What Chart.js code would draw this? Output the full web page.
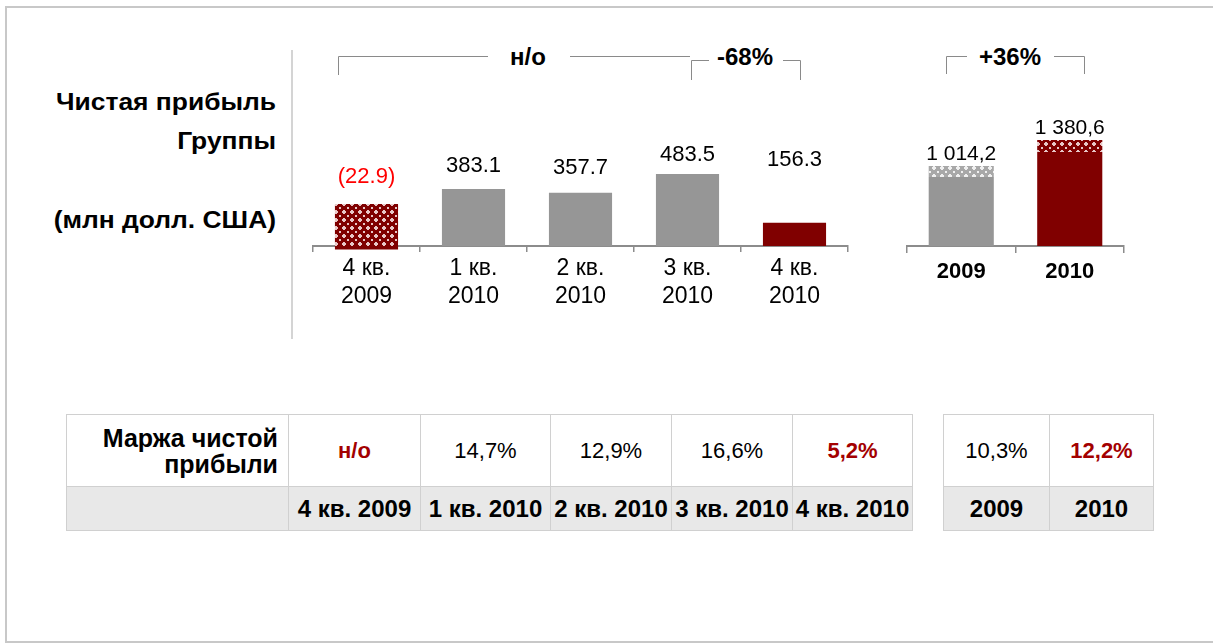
<!DOCTYPE html>
<html>
<head>
<meta charset="utf-8">
<script src="https://cdn.jsdelivr.net/npm/chart.js@4.4.1/dist/chart.umd.min.js"></script>
<style>
body { margin: 0; width: 1213px; height: 643px; position: relative; overflow: hidden; background: #fff;
       font-family: "Liberation Sans", Arial, sans-serif; color: #000; }
.abs { position: absolute; }
.note { position: absolute; font-weight: bold; font-size: 24px; text-align: center; line-height: 26px; background: #fff; }
.title { position: absolute; left: 0; width: 276px; text-align: right; font-weight: bold; font-size: 24px; line-height: 26px;
         transform: scaleX(1.1); transform-origin: right center; }
table { position: absolute; border-collapse: collapse; table-layout: fixed; }
td { border: 1px solid #d0d0d0; text-align: center; padding: 0; font-size: 22px; white-space: nowrap; }
tr.top td { height: 71px; }
tr.bot td { height: 43px; background: #e8e8e8; font-weight: bold; font-size: 24px; }
td.lbl { text-align: right; padding-right: 10px; font-weight: bold; font-size: 25px; line-height: 26px; }
.red { color: #a30000; font-weight: bold; }
</style>
</head>
<body>

<svg class="abs" style="left:0;top:0" width="1213" height="643">
  <path d="M5 7 H1213 M6 7 V642 M5 642 H1213" stroke="#c8c8c8" stroke-width="2" fill="none"/>
  <line x1="292" y1="50" x2="292" y2="339" stroke="#d4d4d4" stroke-width="2"/>
  <g stroke="#8a8a8a" stroke-width="1" fill="none">
    <path d="M338.5 75 V56.5 H488 M570 56.5 H690"/>
    <path d="M691.5 80 V60.5 H709 M783 60.5 H800.5 V80"/>
    <path d="M946.5 74 V56.5 H967 M1054 56.5 H1084.5 V74"/>
  </g>
</svg>

<div class="note" style="left:496px;top:44px;width:64px">н/о</div>
<div class="note" style="left:711px;top:44px;width:68px">-68%</div>
<div class="note" style="left:972px;top:44px;width:76px">+36%</div>

<div class="title" style="top:89px">Чистая прибыль</div>
<div class="title" style="top:128px">Группы</div>
<div class="title" style="top:207px">(млн долл. США)</div>

<canvas id="quarterChart" width="560" height="200" class="abs" style="left:300px;top:120px"></canvas>
<canvas id="yearChart" width="250" height="210" class="abs" style="left:890px;top:100px"></canvas>

<table id="qTable" style="left:66px;top:414px"></table>
<table id="yTable" style="left:943px;top:414px"></table>

<script>
var quarters = [['4 кв.', '2009'], ['1 кв.', '2010'], ['2 кв.', '2010'], ['3 кв.', '2010'], ['4 кв.', '2010']];
var quarterNet = [-22.9, 383.1, 357.7, 483.5, 156.3];
var quarterOneOff = [282, 0, 0, 0, 0];

var years = ['2009', '2010'];
var yearBase = [898, 1224];
var yearOneOff = [143, 156];
var yearTotal = [1014.2, 1380.6];

var quarterNames = ['4 кв. 2009', '1 кв. 2010', '2 кв. 2010', '3 кв. 2010', '4 кв. 2010'];
var quarterMargin = ['н/о', '14,7%', '12,9%', '16,6%', '5,2%'];
var yearMargin = ['10,3%', '12,2%'];

var GREY = '#969696';
var DARK_RED = '#800000';
var FONT = '"Liberation Sans", Arial, sans-serif';

function makePattern(bg, fg) {
    var c = document.createElement('canvas');
    c.width = 8; c.height = 8;
    var g = c.getContext('2d');
    g.fillStyle = bg;
    g.fillRect(0, 0, 8, 8);
    g.fillStyle = fg;
    // small plus in the middle, dots around it
    g.fillRect(3, 2, 2, 4);
    g.fillRect(2, 3, 4, 2);
    g.fillRect(0, 0, 1, 1);
    g.fillRect(7, 7, 1, 1);
    g.fillRect(7, 0, 1, 1);
    g.fillRect(0, 7, 1, 1);
    return g.createPattern(c, 'repeat');
}

var redHatch = makePattern(DARK_RED, '#e8c8c8');
var greyHatch = makePattern('#a8a8a8', '#f0f0f0');

function fmtQuarter(v) {
    return v < 0 ? '(' + (-v).toFixed(1) + ')' : v.toFixed(1);
}

function fmtRu(v) {
    var p = v.toFixed(1).split('.');
    return p[0].replace(/\B(?=(\d{3})+(?!\d))/g, ' ') + ',' + p[1];
}

var barLabels = {
    id: 'barLabels',
    afterDatasetsDraw: function (chart, args, opts) {
        var ctx = chart.ctx;
        ctx.save();
        ctx.font = opts.font;
        ctx.textAlign = 'center';
        ctx.textBaseline = 'middle';
        for (var i = 0; i < chart.data.labels.length; i++) {
            var top = Infinity, x = 0;
            chart.data.datasets.forEach(function (ds, d) {
                var el = chart.getDatasetMeta(d).data[i];
                top = Math.min(top, el.y, el.base);
                x = el.x;
            });
            ctx.fillStyle = opts.colors[i];
            ctx.fillText(opts.texts[i], x, top - opts.lift[i]);
        }
        ctx.restore();
    }
};

var axisGrey = '#8c8c8c';

new Chart(document.getElementById('quarterChart'), {
    type: 'bar',
    data: {
        labels: quarters,
        datasets: [{
            data: quarterOneOff,
            backgroundColor: redHatch,
            barPercentage: 0.59,
            categoryPercentage: 1
        }, {
            data: quarterNet,
            backgroundColor: [DARK_RED, GREY, GREY, GREY, DARK_RED],
            barPercentage: 0.59,
            categoryPercentage: 1,
            clip: false
        }]
    },
    options: {
        responsive: false,
        animation: false,
        layout: { padding: { left: 13, right: 12, top: 30, bottom: 14 } },
        plugins: {
            legend: { display: false },
            tooltip: { enabled: false },
            barLabels: {
                texts: quarterNet.map(fmtQuarter),
                colors: ['#ff0000', '#000', '#000', '#000', '#000'],
                lift: [27, 23, 25, 19, 63],
                font: '22px ' + FONT
            }
        },
        scales: {
            x: {
                stacked: true,
                grid: { drawOnChartArea: false, tickLength: 6, color: axisGrey, lineWidth: 1.5 },
                border: { color: axisGrey, width: 2 },
                ticks: { color: '#000', padding: 3, font: { family: FONT, size: 23, lineHeight: 1.2 } },
                afterFit: function (s) { s.height = 60; }
            },
            y: { stacked: true, display: false, min: 0, max: 644 }
        }
    },
    plugins: [barLabels]
});

new Chart(document.getElementById('yearChart'), {
    type: 'bar',
    data: {
        labels: years,
        datasets: [{
            data: yearBase,
            backgroundColor: [GREY, DARK_RED],
            barPercentage: 0.6,
            categoryPercentage: 1
        }, {
            data: yearOneOff,
            backgroundColor: [greyHatch, redHatch],
            barPercentage: 0.6,
            categoryPercentage: 1
        }]
    },
    options: {
        responsive: false,
        animation: false,
        layout: { padding: { left: 17, right: 16, top: 30, bottom: 14 } },
        plugins: {
            legend: { display: false },
            tooltip: { enabled: false },
            barLabels: {
                texts: yearTotal.map(fmtRu),
                colors: ['#000', '#000'],
                lift: [12, 12],
                font: '21px ' + FONT
            }
        },
        scales: {
            x: {
                stacked: true,
                grid: { drawOnChartArea: false, tickLength: 7, color: axisGrey, lineWidth: 1.5 },
                border: { color: axisGrey, width: 2 },
                ticks: { color: '#000', padding: 6, font: { family: FONT, size: 22, weight: 'bold' } },
                afterFit: function (s) { s.height = 50; }
            },
            y: { stacked: true, display: false, min: 0, max: 1510 }
        }
    },
    plugins: [barLabels]
});

// margin tables
var qWidths = [222, 132, 130, 121, 121, 120];
var qt = document.getElementById('qTable');
var html = '<colgroup>' + qWidths.map(function (w) { return '<col style="width:' + w + 'px">'; }).join('') + '</colgroup>';
html += '<tr class="top"><td class="lbl">Маржа чистой<br>прибыли</td>';
quarterMargin.forEach(function (m, i) {
    html += '<td' + (i === 0 || i === 4 ? ' class="red"' : '') + '>' + m + '</td>';
});
html += '</tr><tr class="bot"><td></td>';
quarterNames.forEach(function (q) { html += '<td>' + q + '</td>'; });
html += '</tr>';
qt.innerHTML = html;

var yt = document.getElementById('yTable');
var yh = '<colgroup><col style="width:106px"><col style="width:104px"></colgroup><tr class="top">';
yearMargin.forEach(function (m, i) {
    yh += '<td' + (i === 1 ? ' class="red"' : '') + '>' + m + '</td>';
});
yh += '</tr><tr class="bot">';
years.forEach(function (y) { yh += '<td>' + y + '</td>'; });
yh += '</tr>';
yt.innerHTML = yh;
</script>
</body>
</html>
